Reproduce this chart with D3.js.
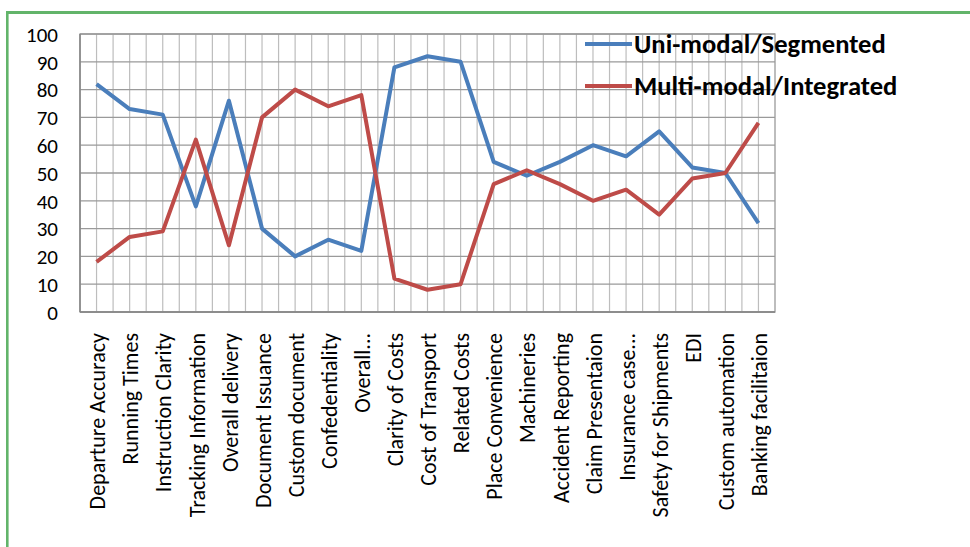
<!DOCTYPE html>
<html><head><meta charset="utf-8">
<script src="https://cdn.jsdelivr.net/npm/d3@7"></script>
<style>
body{margin:0;background:#fff;}
svg{display:block;font-family:Carlito,Calibri,Lato,"Open Sans",sans-serif;}
</style></head><body>
<svg id="c" width="970" height="547"></svg>
<script>
const categories = ["Departure Accuracy","Running Times","Instruction Clarity","Tracking Information","Overall delivery","Document Issuance","Custom document","Confedentiality","Overall...","Clarity of Costs","Cost of Transport","Related Costs","Place Convenience","Machineries","Accident Reporting","Claim Presentaion","Insurance case...","Safety for Shipments","EDI","Custom automation","Banking facilitaion"];
const uniModal = [82,73,71,38,76,30,20,26,22,88,92,90,54,49,54,60,56,65,52,50,32];
const multiModal = [18,27,29,62,24,70,80,74,78,12,8,10,46,51,46,40,44,35,48,50,68];
const yTicks = [0,10,20,30,40,50,60,70,80,90,100];
const seriesNames = ["Uni-modal/Segmented","Multi-modal/Integrated"];
const seriesColors = ["#4a7ebb","#be4b48"];

const svg = d3.select("#c");
// frame
svg.append("line").attr("x1",6).attr("x2",970).attr("y1",12.5).attr("y2",12.5).attr("stroke","#62b46a").attr("stroke-width",3);
svg.append("line").attr("x1",7.3).attr("x2",7.3).attr("y1",11).attr("y2",547).attr("stroke","#62b46a").attr("stroke-width",2.6);

const L=80, R=775, T=34, B=312;
const x = d3.scaleBand().domain(categories).range([L,R]);
const y = d3.scaleLinear().domain([0,100]).range([B,T]);
const g = svg.append("g");

// vertical grid every half category
const vgrid = [];
categories.forEach((c,i)=>{ if(i>0) vgrid.push(x(c)); vgrid.push(x(c)+x.bandwidth()/2); });
g.selectAll(".vg").data(vgrid).enter().append("line")
 .attr("x1",d=>d).attr("x2",d=>d).attr("y1",T).attr("y2",B)
 .attr("stroke","#bdbdbd").attr("stroke-width",1.2);
g.selectAll(".hg").data(yTicks).enter().append("line")
 .attr("x1",L).attr("x2",R).attr("y1",d=>y(d)).attr("y2",d=>y(d))
 .attr("stroke","#9a9a9a").attr("stroke-width",1.3);
// plot border
g.append("rect").attr("x",L).attr("y",T).attr("width",R-L).attr("height",B-T)
 .attr("fill","none").attr("stroke","#9a9a9a").attr("stroke-width",1.3);
g.append("line").attr("x1",L).attr("x2",L).attr("y1",T).attr("y2",B).attr("stroke","#868686").attr("stroke-width",1.5);
g.append("line").attr("x1",L).attr("x2",R).attr("y1",B).attr("y2",B).attr("stroke","#868686").attr("stroke-width",1.5);

// y labels
const yAxis = d3.axisLeft(y).tickValues(yTicks).tickSize(0).tickPadding(22);
const ya = svg.append("g").attr("transform",`translate(${L},0)`).call(yAxis);
ya.select(".domain").remove();
ya.selectAll("text").attr("font-size",21).attr("fill","#000").attr("font-family","Carlito,Calibri,Lato,sans-serif").attr("dy","0.35em");

// x labels
const xa = svg.append("g");
xa.selectAll("text").data(categories).enter().append("text")
 .attr("transform",d=>`translate(${x(d)+x.bandwidth()/2+1},333) rotate(-90)`)
 .attr("dy","0.35em")
 .attr("text-anchor","end").attr("font-size",22).attr("fill","#000").text(d=>d);

// lines
const line = d3.line().x((d,i)=>x(categories[i])+x.bandwidth()/2).y(d=>y(d));
[uniModal,multiModal].forEach((s,k)=>{
  svg.append("path").datum(s).attr("d",line).attr("fill","none")
   .attr("stroke",seriesColors[k]).attr("stroke-width",4).attr("stroke-linejoin","round");
});

// legend
seriesNames.forEach((n,k)=>{
  const yy = 44 + k*42;
  svg.append("line").attr("x1",585).attr("x2",632).attr("y1",yy).attr("y2",yy)
   .attr("stroke",seriesColors[k]).attr("stroke-width",4);
  svg.append("text").attr("x",634).attr("y",yy).attr("dy","0.35em")
   .attr("font-size",26.6).attr("font-weight","bold").attr("fill","#000").text(n);
});
</script></body></html>
